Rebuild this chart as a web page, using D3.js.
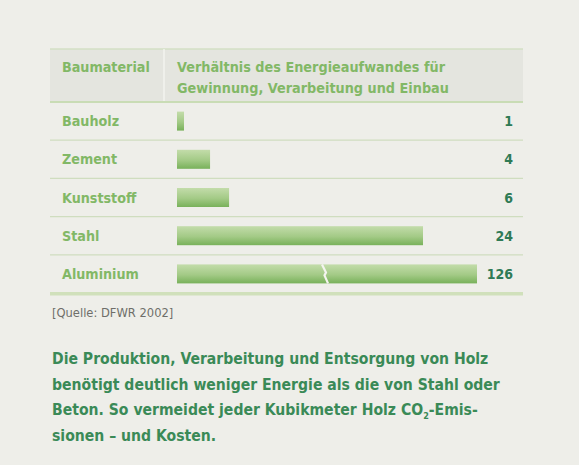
<!DOCTYPE html>
<html><head><meta charset="utf-8">
<script src="https://cdn.jsdelivr.net/npm/d3@7"></script>
<style>
html,body{margin:0;padding:0;background:#eeeee9;}
svg{display:block;}
</style></head>
<body>
<script>
const categories = ["Bauholz","Zement","Kunststoff","Stahl","Aluminium"];
const values = [1,4,6,24,126];
const valueLabels = ["1","4","6","24","126"];
const headerCol1 = "Baumaterial";
const headerCol2 = ["Verhältnis des Energieaufwandes für","Gewinnung, Verarbeitung und Einbau"];
const sourceText = "[Quelle: DFWR 2002]";
const caption = [
  ["Die Produktion, Verarbeitung und Entsorgung von Holz"],
  ["benötigt deutlich weniger Energie als die von Stahl oder"],
  ["Beton. So vermeidet jeder Kubikmeter Holz CO","2","-Emis-"],
  ["sionen – und Kosten."]
];

(function(){
const W=579,H=465;
const svg=d3.select("body").append("svg").attr("width",W).attr("height",H);
const font="'DejaVu Sans Condensed','DejaVu Sans',sans-serif";

const defs=svg.append("defs");
const g1=defs.append("linearGradient").attr("id","barGrad").attr("x1",0).attr("y1",0).attr("x2",0).attr("y2",1);
g1.append("stop").attr("offset","0%").attr("stop-color","#c3dcaa");
g1.append("stop").attr("offset","55%").attr("stop-color","#a3ca86");
g1.append("stop").attr("offset","100%").attr("stop-color","#78b15a");

const tLeft=50,tRight=523,tTop=49,headBottom=102,tBottom=293;
svg.append("rect").attr("x",tLeft).attr("y",tTop).attr("width",tRight-tLeft).attr("height",headBottom-tTop).attr("fill","#e4e5df");
svg.append("line").attr("x1",tLeft).attr("x2",tRight).attr("y1",tTop).attr("y2",tTop).attr("stroke","#d3dfc5").attr("stroke-width",1.5);
svg.append("line").attr("x1",164).attr("x2",164).attr("y1",tTop).attr("y2",headBottom).attr("stroke","#f3f3ef").attr("stroke-width",1.5);
svg.append("line").attr("x1",tLeft).attr("x2",tRight).attr("y1",headBottom).attr("y2",headBottom).attr("stroke","#c9dcb5").attr("stroke-width",2);

const hc="#82b866";
svg.append("text").attr("x",62).attr("y",72).attr("fill",hc).attr("font-family",font).attr("font-weight","bold").attr("font-size",14.2).text(headerCol1);
svg.append("text").attr("x",177).attr("y",72).attr("fill",hc).attr("font-family",font).attr("font-weight","bold").attr("font-size",14.3).text(headerCol2[0]);
svg.append("text").attr("x",177).attr("y",93).attr("fill",hc).attr("font-family",font).attr("font-weight","bold").attr("font-size",14.3).text(headerCol2[1]);

const y=d3.scaleBand().domain(categories).range([headBottom,tBottom]);
const x=d3.scalePow().exponent(1.12).domain([0,24]).range([177,423]);
const xBroken=d3.scaleLinear().domain([24,126]).range([423,477]);
const xv=v=>v<=24?x(v):xBroken(v);

const rows=svg.append("g").selectAll("g").data(categories).join("g");
rows.filter((d,i)=>i<categories.length-1).append("line")
  .attr("x1",tLeft).attr("x2",tRight)
  .attr("y1",d=>y(d)+y.bandwidth()).attr("y2",d=>y(d)+y.bandwidth())
  .attr("stroke","#cfddbf").attr("stroke-width",1.3);
rows.append("text").attr("x",62).attr("y",d=>y(d)+y.bandwidth()/2+5)
  .attr("fill",hc).attr("font-family",font).attr("font-weight","bold").attr("font-size",14.2).text(d=>d);
rows.append("rect").attr("x",x(0)).attr("y",d=>y(d)+y.bandwidth()/2-9.5)
  .attr("width",(d,i)=>xv(values[i])-x(0)).attr("height",19).attr("fill","url(#barGrad)");
rows.append("text").attr("x",513).attr("y",d=>y(d)+y.bandwidth()/2+5).attr("text-anchor","end")
  .attr("fill","#2f7a55").attr("font-family",font).attr("font-weight","bold").attr("font-size",14)
  .text((d,i)=>valueLabels[i]);

const al=categories[4], by=y(al)+y.bandwidth()/2-9.5;
const bx=(x(24)+x(0))/2+25;
svg.append("path").attr("d",`M${bx-3},${by} L${bx+1},${by+8} L${bx-0.5},${by+11} L${bx+3},${by+19}`)
  .attr("fill","none").attr("stroke","#f4f4ef").attr("stroke-width",2.2);

svg.append("rect").attr("x",tLeft).attr("y",tBottom-1).attr("width",tRight-tLeft).attr("height",3.5).attr("fill","#d0e0bb");

svg.append("text").attr("x",52).attr("y",317).attr("fill","#6e6e6a").attr("font-family",font).attr("font-size",12.8).text(sourceText);

const cap=svg.append("g");
caption.forEach((parts,i)=>{
  const t=cap.append("text").attr("x",52).attr("y",364+i*25.5).attr("fill","#3a8a57")
    .attr("font-family",font).attr("font-weight","bold").attr("font-size",15.6);
  if(parts.length===1) t.text(parts[0]);
  else {
    t.append("tspan").text(parts[0]);
    t.append("tspan").attr("font-size",9).attr("dy",4).text(parts[1]);
    t.append("tspan").attr("dy",-4).text(parts[2]);
  }
});
})();
</script>
</body></html>
